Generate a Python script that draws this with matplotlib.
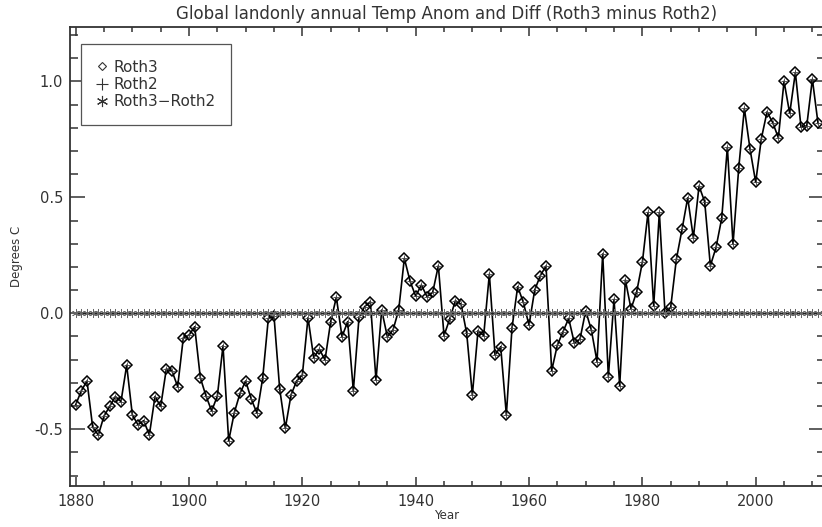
import matplotlib
matplotlib.use("Agg")
import matplotlib.pyplot as plt
from matplotlib.lines import Line2D
from matplotlib.ticker import MultipleLocator
import numpy as np

# annual land-only anomalies (degrees C)
years = list(range(1880, 2012))
roth3 = [-0.395, -0.334, -0.292, -0.491, -0.525, -0.443, -0.402, -0.359, -0.381, -0.224,
         -0.438, -0.481, -0.463, -0.525, -0.359, -0.402, -0.240, -0.249, -0.316, -0.105,
         -0.094, -0.058, -0.278, -0.357, -0.421, -0.357, -0.140, -0.550, -0.428, -0.345,
         -0.292, -0.371, -0.431, -0.280, -0.022, -0.012, -0.326, -0.496, -0.352, -0.292,
         -0.266, -0.019, -0.191, -0.155, -0.201, -0.036, 0.069, -0.101, -0.036, -0.334,
         -0.017, 0.029, 0.050, -0.288, 0.014, -0.101, -0.072, 0.014, 0.237, 0.139,
         0.074, 0.122, 0.072, 0.090, 0.205, -0.096, -0.025, 0.054, 0.040, -0.086,
         -0.352, -0.075, -0.096, 0.169, -0.180, -0.144, -0.438, -0.062, 0.115, 0.047,
         -0.051, 0.100, 0.163, 0.204, -0.247, -0.137, -0.079, -0.022, -0.129, -0.111,
         0.011, -0.072, -0.208, 0.256, -0.273, 0.060, -0.312, 0.144, 0.019, 0.093,
         0.220, 0.435, 0.033, 0.435, 0.000, 0.026, 0.233, 0.362, 0.498, 0.326,
         0.549, 0.481, 0.205, 0.284, 0.409, 0.716, 0.299, 0.625, 0.884, 0.708,
         0.565, 0.754, 0.869, 0.823, 0.757, 1.001, 0.862, 1.039, 0.802, 0.807,
         1.010, 0.819]
# Roth2 sits exactly on Roth3 in the picture (difference reads zero everywhere)
roth2 = list(roth3)
diff = np.array(roth3) - np.array(roth2)

labels = ["Roth3", "Roth2", "Roth3\u2212Roth2"]

fig = plt.figure(figsize=(8.22, 5.27), dpi=100)
ax = fig.add_axes([70 / 822, 41 / 527, 753.7 / 822, 459 / 527])

ax.plot(years, roth3, color="black", lw=1.2, marker="D", ms=5.3,
        mfc="none", mec="black", mew=1.1)
ax.plot(years, roth2, ls="none", marker="+", ms=4, color="#444444", mew=0.6)
ax.plot(years, diff, color="#222222", lw=0.9, marker=(6, 2, 0), ms=6.5,
        mew=0.5, mec="#666666")

ax.set_xlim(1879, 2012)
ax.set_ylim(-0.745, 1.235)
ax.xaxis.set_major_locator(MultipleLocator(20))
ax.xaxis.set_minor_locator(MultipleLocator(5))
ax.yaxis.set_major_locator(MultipleLocator(0.5))
ax.yaxis.set_minor_locator(MultipleLocator(0.1))
ax.yaxis.set_major_formatter(plt.FuncFormatter(lambda v, p: "%.1f" % v))

ax.tick_params(axis="both", which="both", direction="in", top=True, right=True,
               colors="#333333", labelcolor="#333333", labelsize=10.5)
ax.tick_params(axis="x", which="major", length=6.6, width=1.1, pad=6)
ax.tick_params(axis="x", which="minor", length=3.3, width=1.1)
ax.tick_params(axis="y", which="major", length=10.8, width=1.1, pad=5)
ax.tick_params(axis="y", which="minor", length=5.4, width=1.1)
for s in ax.spines.values():
    s.set_linewidth(1.3)
    s.set_color("#333333")

ax.set_title("Global landonly annual Temp Anom and Diff (Roth3 minus Roth2)",
             fontsize=12, color="#333333", pad=6)
ax.set_xlabel("Year", fontsize=8.5, color="#333333", labelpad=0)
ax.set_ylabel("Degrees C", fontsize=8.5, color="#333333", labelpad=8)

handles = [
    Line2D([], [], ls="none", marker="D", ms=4.5, mfc="none", mec="#333333", mew=0.8),
    Line2D([], [], ls="none", marker="+", ms=8, color="#333333", mew=0.8),
    Line2D([], [], ls="none", marker=(6, 2, 0), ms=8, color="#333333", mew=0.8),
]
leg = ax.legend(handles, labels, loc="upper left", bbox_to_anchor=(0.0146, 0.962),
                fontsize=11, frameon=True, fancybox=False, framealpha=1,
                edgecolor="#555555", borderpad=1.0, labelspacing=0.15,
                handlelength=0.8, handletextpad=0.35, borderaxespad=0)
leg.get_frame().set_linewidth(0.9)
for t in leg.get_texts():
    t.set_color("#333333")

fig.savefig("out.png", dpi=100)
